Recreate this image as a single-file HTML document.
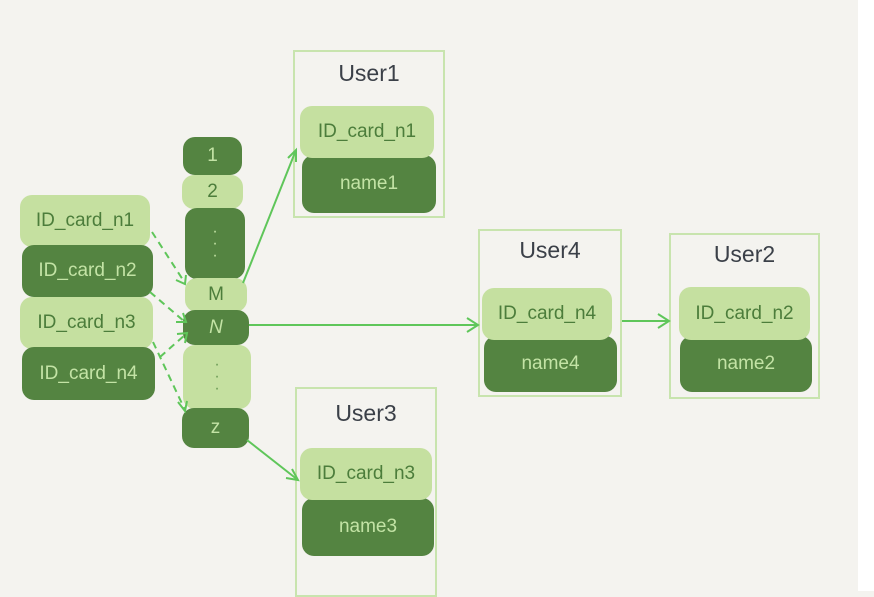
<!DOCTYPE html>
<html><head><style>
body{margin:0;width:874px;height:591px;background:#f4f3ef;position:relative;overflow:hidden;font-family:"Liberation Sans",sans-serif}
.b{position:absolute;display:flex;align-items:center;justify-content:center;font-size:19px;border-radius:12px}
.l{background:#c5e0a0;color:#4c7d3b}
.d{background:#548441;color:#c3e3a5}
.box{position:absolute;border:2px solid #c8e4ae;box-sizing:border-box}
.t{position:absolute;font-size:23px;color:#3b4048;text-align:center}
</style></head><body>
<div style="position:absolute;left:858px;top:0;width:16px;height:591px;background:#fff"></div>

<div class="box" style="left:293px;top:50px;width:152px;height:168px"></div>
<div class="box" style="left:478px;top:229px;width:144px;height:168px"></div>
<div class="box" style="left:669px;top:233px;width:151px;height:166px"></div>
<div class="box" style="left:295px;top:387px;width:142px;height:210px"></div>
<div class="t" style="left:293px;top:60px;width:152px">User1</div>
<div class="t" style="left:478px;top:237px;width:144px">User4</div>
<div class="t" style="left:669px;top:241px;width:151px">User2</div>
<div class="t" style="left:295px;top:400px;width:142px">User3</div>

<div class="b d" style="left:302px;top:155px;width:134px;height:58px">name1</div>
<div class="b l" style="left:300px;top:106px;width:134px;height:52px">ID_card_n1</div>
<div class="b d" style="left:484px;top:336px;width:133px;height:56px">name4</div>
<div class="b l" style="left:482px;top:288px;width:130px;height:52px">ID_card_n4</div>
<div class="b d" style="left:680px;top:336px;width:132px;height:56px">name2</div>
<div class="b l" style="left:679px;top:287px;width:131px;height:53px">ID_card_n2</div>
<div class="b d" style="left:302px;top:498px;width:132px;height:58px">name3</div>
<div class="b l" style="left:300px;top:448px;width:132px;height:52px">ID_card_n3</div>

<div class="b l" style="left:20px;top:195px;width:130px;height:52px">ID_card_n1</div>
<div class="b d" style="left:22px;top:245px;width:131px;height:52px">ID_card_n2</div>
<div class="b l" style="left:20px;top:297px;width:133px;height:52px">ID_card_n3</div>
<div class="b d" style="left:22px;top:347px;width:133px;height:53px">ID_card_n4</div>

<div class="b d" style="left:183px;top:137px;width:59px;height:38px">1</div>
<div class="b l" style="left:182px;top:175px;width:61px;height:34px">2</div>
<div class="b d" style="left:185px;top:208px;width:60px;height:71px;flex-direction:column;line-height:12px;font-size:16px">·<br>·<br>·</div>
<div class="b l" style="left:185px;top:278px;width:62px;height:34px">M</div>
<div class="b d" style="left:183px;top:310px;width:66px;height:35px;font-style:italic">N</div>
<div class="b l" style="left:183px;top:345px;width:68px;height:64px;flex-direction:column;line-height:12px;font-size:16px;color:#6a9a55">·<br>·<br>·</div>
<div class="b d" style="left:182px;top:408px;width:67px;height:40px">z</div>

<svg width="874" height="591" style="position:absolute;left:0;top:0" fill="none" stroke="#5fc65a" stroke-width="2">
<line x1="249" y1="325" x2="478" y2="325"/><polyline points="467,318 478,325 467,332"/>
<line x1="622" y1="321" x2="669" y2="321"/><polyline points="658,314 669,321 658,328"/>
<line x1="243" y1="283" x2="296" y2="150"/><polyline points="288,158 296,150 296,162"/>
<line x1="247" y1="440" x2="298" y2="480"/><polyline points="286,478 298,480 292,469"/>
<g stroke-dasharray="7,5">
<line x1="152" y1="232" x2="185" y2="283"/>
<line x1="150" y1="292" x2="185" y2="322"/>
<line x1="160" y1="357" x2="186" y2="334"/>
<line x1="153" y1="342" x2="185" y2="410"/>
</g>
<polyline points="176,280 185,284 186,275"/>
<polyline points="176,322 186,322 183,313"/>
<polyline points="177,334 187,333 185,343"/>
<polyline points="178,402 185,411 187,401"/>
</svg>
</body></html>
